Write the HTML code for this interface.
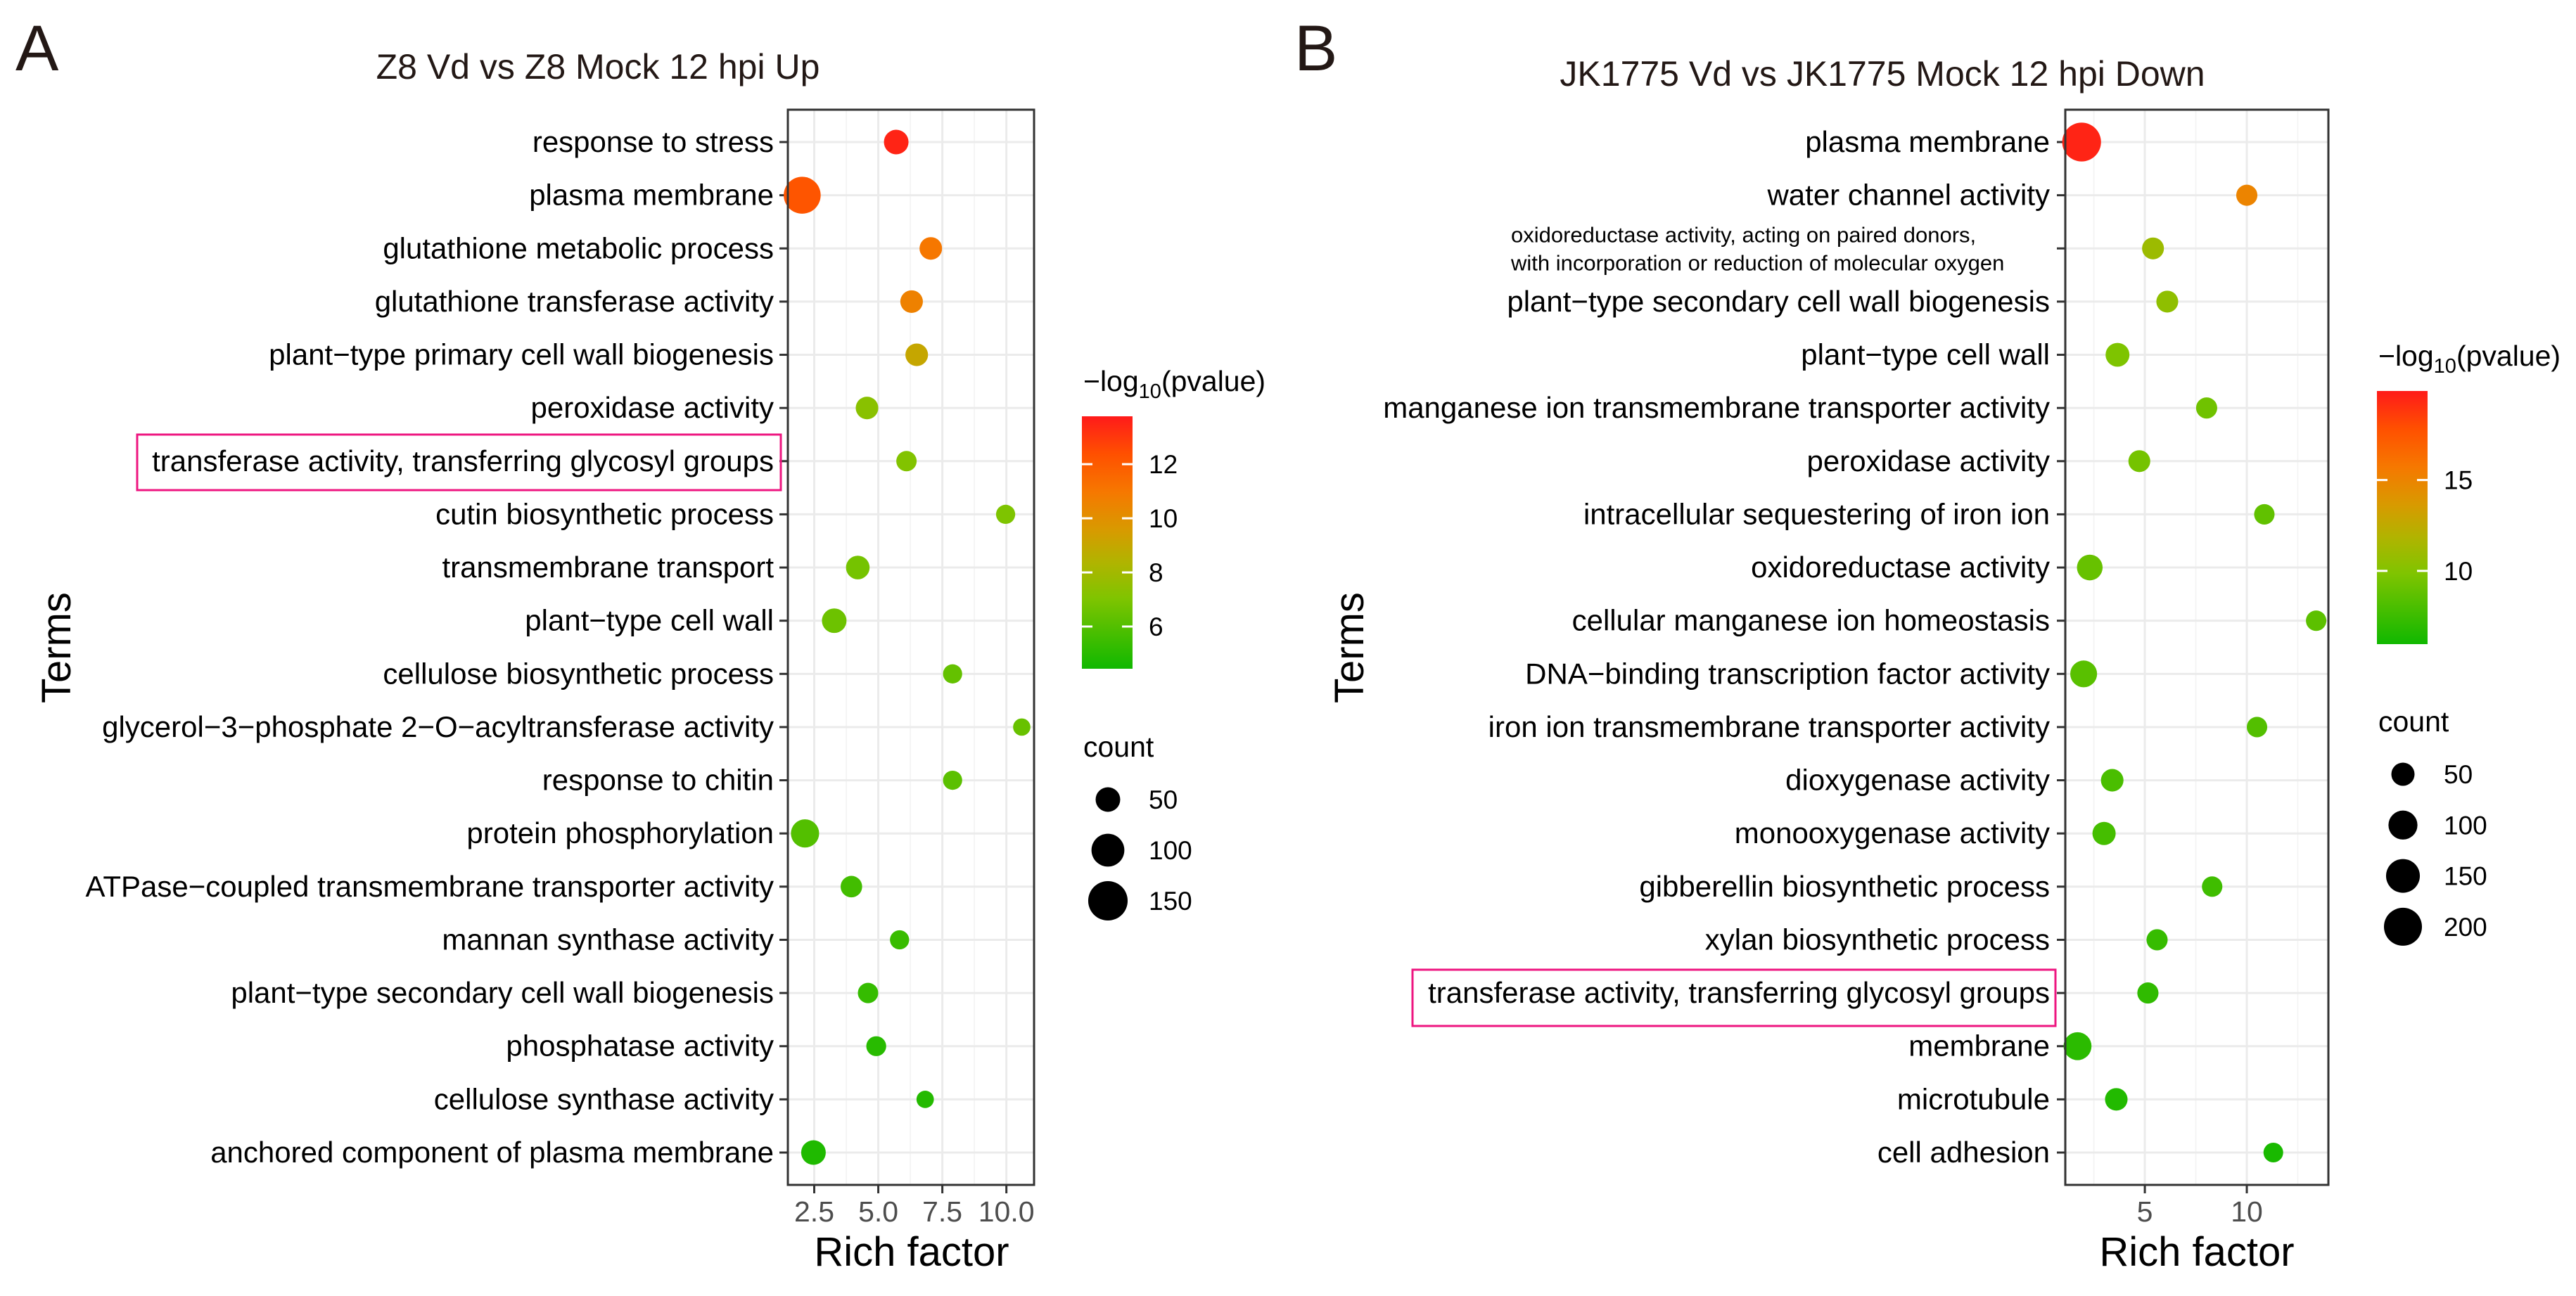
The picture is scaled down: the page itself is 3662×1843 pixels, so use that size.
<!DOCTYPE html>
<html><head><meta charset="utf-8">
<style>
html,body{margin:0;padding:0;background:#fff;}
svg{display:block;font-family:"Liberation Sans",Arial,sans-serif;}
</style></head>
<body>
<svg id="chart" width="3662" height="1843" viewBox="0 0 3662 1843" xmlns="http://www.w3.org/2000/svg">
<defs>
<linearGradient id="cbar" x1="0" y1="1" x2="0" y2="0">
<stop offset="0" stop-color="#10b800"/><stop offset="0.28" stop-color="#80c400"/><stop offset="0.42" stop-color="#b0b400"/><stop offset="0.55" stop-color="#d89a00"/><stop offset="0.7" stop-color="#f67800"/><stop offset="0.85" stop-color="#ff5000"/><stop offset="1" stop-color="#ff1a1a"/>
</linearGradient>
</defs>
<text x="22" y="100" font-size="92" fill="#231815">A</text>
<text x="1840" y="100" font-size="92" fill="#231815">B</text>
<text x="850" y="112" font-size="50" text-anchor="middle" fill="#231815">Z8 Vd vs Z8 Mock 12 hpi Up</text>
<text x="2676" y="122" font-size="50" text-anchor="middle" fill="#231815">JK1775 Vd vs JK1775 Mock 12 hpi Down</text>
<g id="pa"></g>
<g id="pb"></g>
</svg>
<script>
const NS='http://www.w3.org/2000/svg';
// Panel A data
const termsA=["response to stress","plasma membrane","glutathione metabolic process","glutathione transferase activity","plant\u2212type primary cell wall biogenesis","peroxidase activity","transferase activity, transferring glycosyl groups","cutin biosynthetic process","transmembrane transport","plant\u2212type cell wall","cellulose biosynthetic process","glycerol\u22123\u2212phosphate 2\u2212O\u2212acyltransferase activity","response to chitin","protein phosphorylation","ATPase\u2212coupled transmembrane transporter activity","mannan synthase activity","plant\u2212type secondary cell wall biogenesis","phosphatase activity","cellulose synthase activity","anchored component of plasma membrane"];
const richA=[5.7,2.03,7.05,6.3,6.5,4.56,6.1,9.97,4.2,3.28,7.9,10.6,7.9,2.14,3.95,5.83,4.6,4.92,6.83,2.47];
const pvalA=[13.5,12.2,11,10.6,9,7.3,7.1,7,6.8,6.6,6.4,6.5,6.2,6,5.6,5.4,5.3,5,4.9,4.8];
const countA=[50,130,40,40,40,40,30,25,45,50,25,18,25,70,35,25,30,28,18,50];
const xTicksA=[2.5,5.0,7.5,10.0];
const xTickLabelsA=["2.5","5.0","7.5","10.0"];
const cbTicksA=[6,8,10,12];
const sizeTicksA=[50,100,150];
// Panel B data
const termsB=["plasma membrane","water channel activity","oxidoreductase activity, acting on paired donors,|with incorporation or reduction of molecular oxygen","plant\u2212type secondary cell wall biogenesis","plant\u2212type cell wall","manganese ion transmembrane transporter activity","peroxidase activity","intracellular sequestering of iron ion","oxidoreductase activity","cellular manganese ion homeostasis","DNA\u2212binding transcription factor activity","iron ion transmembrane transporter activity","dioxygenase activity","monooxygenase activity","gibberellin biosynthetic process","xylan biosynthetic process","transferase activity, transferring glycosyl groups","membrane","microtubule","cell adhesion"];
const richB=[1.9,10,5.4,6.1,3.66,8.03,4.73,10.86,2.3,13.4,2.0,10.5,3.4,3.0,8.3,5.6,5.15,1.7,3.6,11.3];
const pvalB=[19.5,15,11,10.5,9.8,9.3,9.5,8.8,9,8.6,8.5,8.3,8,7.8,7.6,7.3,7.1,6.9,6.6,6.3];
const countB=[210,35,40,40,55,35,40,30,70,30,80,30,45,50,30,35,35,90,45,25];
const xTicksB=[5,10];
const xTickLabelsB=["5","10"];
const cbTicksB=[10,15];
const sizeTicksB=[50,100,150,200];

const stops=[[0,[16,184,0]],[0.28,[128,196,0]],[0.42,[176,180,0]],[0.55,[216,154,0]],[0.7,[246,120,0]],[0.85,[255,80,0]],[1,[255,26,26]]];
function colorAt(t){t=Math.max(0,Math.min(1,t));for(let i=1;i<stops.length;i++){if(t<=stops[i][0]){const a=stops[i-1],b=stops[i];const f=(t-a[0])/(b[0]-a[0]);const c=a[1].map((v,k)=>Math.round(v+(b[1][k]-v)*f));return `rgb(${c[0]},${c[1]},${c[2]})`;}}return 'rgb(255,26,26)';}
function mk(parent,tag,attrs,txt){const e=document.createElementNS(NS,tag);for(const k in attrs)e.setAttribute(k,attrs[k]);if(txt!==undefined)e.textContent=txt;parent.appendChild(e);return e;}

function panel(g,cfg){
  const {L,R,T,B,xmin,xmax,terms,rich,pval,count,xt,xtl,minor,cbX,cbT,cbB,cbMin,cbMax,cbTicks,sizeTicks,sizeR,legX,cntY,sizeY,termsX,richX,box,pfx,labRight}=cfg;
  const xs=v=>L+(v-xmin)/(xmax-xmin)*(R-L);
  const rowY=i=>202+i*(1639-202)/19;
  const bg=mk(g,'rect',{x:L,y:T,width:R-L,height:B-T,fill:'#fff'});
  
  
  minor.forEach(v=>{const l=mk(g,'line',{x1:xs(v),x2:xs(v),y1:T,y2:B,stroke:'#f2f2f2','stroke-width':1.5});
    
    });
  xt.forEach(v=>{const l=mk(g,'line',{x1:xs(v),x2:xs(v),y1:T,y2:B,stroke:'#ebebeb','stroke-width':3});
    
    });
  terms.forEach((t,i)=>{const y=rowY(i);
    const l=mk(g,'line',{x1:L,x2:R,y1:y,y2:y,stroke:'#ebebeb','stroke-width':3});
    
    
    const tk=mk(g,'line',{x1:L-12,x2:L,y1:y,y2:y,stroke:'#333','stroke-width':3});
    
    
    if(t.indexOf('|')>=0){const parts=t.split('|');
      const tx=mk(g,'text',{x:2148,y:y-9,'font-size':31,'text-anchor':'start',fill:'#000'});
      
      
      mk(tx,'tspan',{x:2148,y:y-9},parts[0]);
      mk(tx,'tspan',{x:2148,y:y+31},parts[1]);
    } else {
      const tx=mk(g,'text',{x:labRight,y:y+14,'font-size':42,'text-anchor':'end',fill:'#000'},t);
      
      
    }
  });
  terms.forEach((t,i)=>{const y=rowY(i);
    const c=mk(g,'circle',{cx:xs(rich[i]),cy:y,r:sizeR(count[i]),fill:colorAt((pval[i]-cbMin)/(cbMax-cbMin))});
    
    
  });
  const bd=mk(g,'rect',{x:L,y:T,width:R-L,height:B-T,fill:'none',stroke:'#333','stroke-width':3});
  
  
  xt.forEach((v,i)=>{const tk=mk(g,'line',{x1:xs(v),x2:xs(v),y1:B,y2:B+12,stroke:'#333','stroke-width':3});
    
    
    const tl=mk(g,'text',{x:xs(v),y:B+52,'font-size':41,'text-anchor':'middle',fill:'#4d4d4d'},xtl[i]);
    
    });
  const xtit=mk(g,'text',{x:richX,y:1800,'font-size':58,'text-anchor':'middle',fill:'#000'},'Rich factor');
  
  
  const ytit=mk(g,'text',{x:termsX,y:921,'font-size':58,'text-anchor':'middle',fill:'#000',transform:`rotate(-90 ${termsX} 921)`},'Terms');
  
  
  const hb=mk(g,'rect',{x:box[0],y:box[1],width:box[2]-box[0],height:box[3]-box[1],fill:'none',stroke:'#ee1680','stroke-width':3});
  
  
  const ct=mk(g,'text',{x:legX,y:cbT-36,'font-size':41,fill:'#000'});
  
  
  mk(ct,'tspan',{},'\u2212log');mk(ct,'tspan',{'font-size':29,dy:10},'10');mk(ct,'tspan',{dy:-10},'(pvalue)');
  const cb=mk(g,'rect',{x:cbX,y:cbT,width:72,height:cbB-cbT,fill:'url(#cbar)'});
  
  
  const cy=v=>cbB-(v-cbMin)/(cbMax-cbMin)*(cbB-cbT);
  cbTicks.forEach(v=>{
    mk(g,'line',{x1:cbX,x2:cbX+15,y1:cy(v),y2:cy(v),stroke:'#fff','stroke-width':3});
    mk(g,'line',{x1:cbX+57,x2:cbX+72,y1:cy(v),y2:cy(v),stroke:'#fff','stroke-width':3});
    const tl=mk(g,'text',{x:cbX+95,y:cy(v)+13,'font-size':37,fill:'#000'},String(v));
    
    });
  const st=mk(g,'text',{x:legX,y:cntY,'font-size':41,fill:'#000'},'count');
  
  
  sizeTicks.forEach((v,i)=>{const y=sizeY[0]+i*sizeY[1];
    const c=mk(g,'circle',{cx:cbX+37,cy:y,r:sizeR(v),fill:'#000'});
    
    
    const tl=mk(g,'text',{x:cbX+95,y:y+13,'font-size':37,fill:'#000'},String(v));
    
    });
}
panel(document.getElementById('pa'),{L:1120,R:1470,T:156,B:1685,xmin:1.47,xmax:11.08,terms:termsA,rich:richA,pval:pvalA,count:countA,xt:xTicksA,xtl:xTickLabelsA,minor:[3.75,6.25,8.75],cbX:1538,cbT:592,cbB:951,cbMin:4.44,cbMax:13.77,cbTicks:cbTicksA,sizeTicks:sizeTicksA,sizeR:c=>Math.sqrt(66+4.8*c),legX:1540,cntY:1076,sizeY:[1137,72],termsX:100,richX:1296,box:[195,618,1110,697],pfx:'a-',labRight:1100});
panel(document.getElementById('pb'),{L:2936,R:3310,T:156,B:1685,xmin:1.1,xmax:14.0,terms:termsB,rich:richB,pval:pvalB,count:countB,xt:xTicksB,xtl:xTickLabelsB,minor:[2.5,7.5,12.5],cbX:3379,cbT:556,cbB:916,cbMin:5.97,cbMax:19.9,cbTicks:cbTicksB,sizeTicks:sizeTicksB,sizeR:c=>Math.sqrt(120+3.05*c),legX:3381,cntY:1040,sizeY:[1101,72.3],termsX:1938,richX:3123,box:[2008,1379,2922,1459],pfx:'b-',labRight:2914});
</script>
</body></html>
